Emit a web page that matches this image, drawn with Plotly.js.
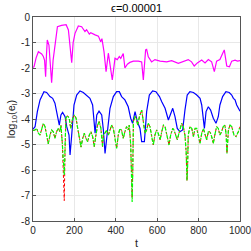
<!DOCTYPE html>
<html>
<head>
<meta charset="utf-8">
<script src="https://cdn.plot.ly/plotly-3.0.1.min.js"></script>
<style>html,body{margin:0;padding:0;background:#fff;}#chart{width:251px;height:251px;}</style>
</head>
<body>
<div id="chart"></div>
<script>
var magentaT = [0,5,15,26,42,50,56,61,65,69,77,84,90,97,106,118,138,160,171,180,187,194,203,219,235,251,259,272,279,300,316,327,333,343,353,364,372,383,396,407,417,424,436,444,456,468,485,509,525,533,544,549,557,573,589,614,646,670,702,726,750,766,779,794,815,831,847,863,876,887,903,916,924,936,949,960,976,988,1000];
var magentaV = [-1.98,-1.95,-1.6,-1.36,-1.45,-1.55,-1.7,-2.34,-1.5,-0.9,-1.1,-1.9,-2.58,-1.7,-1.16,-0.38,-0.33,-0.3,-0.51,-1.2,-1.79,-1.0,-0.64,-0.35,-0.38,-0.57,-0.5,-0.67,-0.62,-0.7,-0.75,-0.97,-0.85,-1.36,-2.14,-1.42,-1.8,-2.47,-1.62,-1.67,-1.55,-1.62,-1.43,-2.0,-1.85,-1.78,-1.73,-1.73,-1.76,-2.47,-1.29,-1.27,-1.56,-1.76,-1.67,-1.73,-1.76,-1.71,-1.82,-1.76,-1.67,-1.76,-1.92,-1.8,-1.69,-1.8,-1.67,-1.76,-2.14,-1.73,-1.67,-1.43,-1.29,-1.92,-1.95,-1.73,-1.69,-1.73,-1.71];

var blueT = [0,10,21,34,53,66,82,95,106,117,127,135,143,155,163,174,179,187,198,211,227,243,259,275,288,295,300,308,319,332,340,348,359,372,388,404,417,428,444,460,472,481,493,504,517,525,538,549,562,578,594,611,622,638,654,665,675,686,697,710,723,734,745,758,775,791,807,815,823,828,836,847,858,871,884,895,903,916,932,948,960,968,976,984,997,1000];
var blueV = [-4.4,-4.3,-3.71,-3.25,-2.93,-2.96,-3.12,-3.19,-3.38,-3.78,-4.24,-3.84,-3.74,-3.91,-4.3,-4.63,-5.41,-4.63,-3.45,-3.06,-2.9,-2.96,-3.06,-3.19,-3.45,-3.97,-4.56,-3.84,-3.69,-3.84,-4.43,-5.35,-4.63,-3.58,-3.12,-2.93,-2.93,-3.12,-3.25,-3.52,-3.97,-4.17,-3.71,-4.1,-4.37,-4.89,-4.89,-3.71,-3.06,-2.9,-2.93,-3.12,-3.32,-3.58,-4.04,-3.78,-3.58,-3.91,-4.37,-4.5,-4.43,-3.65,-3.06,-2.93,-2.96,-3.06,-3.19,-3.45,-4.1,-4.37,-3.71,-3.52,-3.65,-3.97,-4.17,-3.91,-3.45,-3.12,-2.93,-2.96,-3.06,-3.19,-3.25,-3.45,-3.65,-3.7];

var greenT = [0,10,18,26,34,42,50,58,66,74,82,90,98,106,114,122,130,135,142,148,151,155,159,166,175,182,192,200,208,216,224,232,240,248,256,264,272,280,288,296,304,312,320,328,336,340,348,356,364,372,380,388,396,404,412,420,428,436,444,452,460,465,472,476,479,482,485,493,498,506,514,525,533,541,549,557,565,573,581,589,597,605,614,622,630,638,646,657,665,675,681,691,697,707,718,726,734,740,744,747,750,758,767,775,783,791,799,807,815,823,831,839,847,855,863,871,879,887,895,903,911,919,927,933,937,940,944,952,960,971,981,992,1000];
var greenV = [-4.45,-4.43,-4.37,-4.56,-4.63,-4.37,-4.17,-4.3,-4.63,-4.98,-4.63,-4.43,-4.5,-4.76,-4.5,-4.37,-4.5,-4.24,-5.0,-5.9,-6.2,-5.0,-3.97,-3.87,-3.97,-4.37,-3.97,-3.84,-3.97,-4.37,-4.69,-5.1,-4.76,-4.56,-4.76,-4.89,-4.63,-4.5,-4.69,-5.08,-4.63,-4.24,-4.1,-4.37,-5.08,-4.6,-4.55,-4.43,-4.63,-4.43,-4.24,-4.37,-4.69,-5.15,-4.63,-4.37,-4.45,-4.76,-4.5,-4.3,-4.43,-4.24,-5.0,-6.3,-7.25,-6.0,-4.1,-3.91,-3.95,-4.24,-3.91,-3.65,-4.1,-4.56,-4.43,-4.17,-4.3,-4.63,-5.02,-4.63,-4.43,-4.56,-4.82,-4.5,-4.24,-4.3,-4.63,-5.02,-4.63,-4.37,-4.43,-4.63,-4.82,-4.5,-4.17,-4.3,-4.63,-5.3,-6.42,-5.8,-4.63,-4.3,-4.37,-4.69,-4.37,-4.37,-4.63,-4.96,-4.56,-4.37,-4.6,-4.82,-4.5,-4.5,-4.69,-4.96,-4.6,-4.3,-4.37,-4.63,-4.5,-4.3,-4.24,-4.6,-5.35,-4.8,-4.43,-4.24,-4.3,-4.63,-4.69,-4.5,-4.3];

var redT = greenT;
var redV = [-4.45,-4.43,-4.37,-4.56,-4.63,-4.37,-4.17,-4.3,-4.63,-4.98,-4.63,-4.43,-4.5,-4.76,-4.5,-4.37,-4.5,-4.24,-5.0,-6.6,-7.2,-5.2,-3.97,-3.87,-3.97,-4.37,-3.97,-3.84,-3.97,-4.37,-4.69,-5.1,-4.76,-4.56,-4.76,-4.89,-4.63,-4.5,-4.69,-5.08,-4.63,-4.24,-4.1,-4.37,-5.08,-4.6,-4.55,-4.43,-4.63,-4.43,-4.24,-4.37,-4.69,-5.15,-4.63,-4.37,-4.45,-4.76,-4.5,-4.3,-4.43,-4.24,-5.0,-6.3,-7.1,-6.0,-4.1,-3.91,-3.95,-4.24,-3.91,-3.65,-4.1,-4.56,-4.43,-4.17,-4.3,-4.63,-5.02,-4.63,-4.43,-4.56,-4.82,-4.5,-4.24,-4.3,-4.63,-5.02,-4.63,-4.37,-4.43,-4.63,-4.82,-4.5,-4.17,-4.3,-4.63,-5.3,-6.42,-5.8,-4.63,-4.3,-4.37,-4.69,-4.37,-4.37,-4.63,-4.96,-4.56,-4.37,-4.6,-4.82,-4.5,-4.5,-4.69,-4.96,-4.6,-4.3,-4.37,-4.63,-4.5,-4.3,-4.24,-4.6,-5.35,-4.8,-4.43,-4.24,-4.3,-4.63,-4.69,-4.5,-4.3];

var xTickVals = [0,200,400,600,800,1000];
var xTickText = ['0','200','400','600','800','1000'];
var yTickVals = [0,-1,-2,-3,-4,-5,-6,-7,-8];
var yTickText = ['0','-1','-2','-3','-4','-5','-6','-7','-8'];

var titleText = 'ϵ=0.00001';
var xTitle = 't';
var yTitle = 'log<sub>10</sub>(e<sub>l</sub>)';

var traces = [
  {x: magentaT, y: magentaV, mode: 'lines', line: {color: '#ff00ff', width: 1.2}},
  {x: blueT, y: blueV, mode: 'lines', line: {color: '#0000ff', width: 1.2}},
  {x: redT, y: redV, mode: 'lines', line: {color: '#ff0000', width: 1.0, dash: '3px,2px'}},
  {x: greenT, y: greenV, mode: 'lines', line: {color: '#00ff00', width: 1.2, dash: '4px,1.5px,1.5px,1.5px'}}
];

var axCommon = {
  showgrid: true, gridcolor: '#e8e8e8', gridwidth: 1,
  showline: true, mirror: true, linecolor: '#555555', linewidth: 1,
  ticks: 'inside', ticklen: 3, tickcolor: '#555555',
  zeroline: false, ticklabeloverflow: 'allow',
  tickfont: {family: 'Liberation Sans, Arial, sans-serif', size: 10, color: '#262626'}
};

var layout = {
  width: 251, height: 251,
  margin: {l: 33, r: 11, t: 17, b: 30},
  paper_bgcolor: '#ffffff', plot_bgcolor: '#ffffff',
  showlegend: false,
  font: {family: 'Liberation Sans, Arial, sans-serif', color: '#262626'},
  title: {text: titleText, font: {size: 11, color: '#000000'}, x: 0.544, xanchor: 'center', y: 0.968, yanchor: 'middle'},
  xaxis: Object.assign({}, axCommon, {range: [0, 1000], tickvals: xTickVals, ticktext: xTickText,
    title: {text: xTitle, font: {size: 11, color: '#262626'}, standoff: 4}}),
  yaxis: Object.assign({}, axCommon, {range: [-8, 0], tickvals: yTickVals, ticktext: yTickText,
    title: {text: yTitle, font: {size: 11, color: '#262626'}, standoff: 3}})
};

Plotly.newPlot('chart', traces, layout, {staticPlot: true, displayModeBar: false});
</script>
</body>
</html>
